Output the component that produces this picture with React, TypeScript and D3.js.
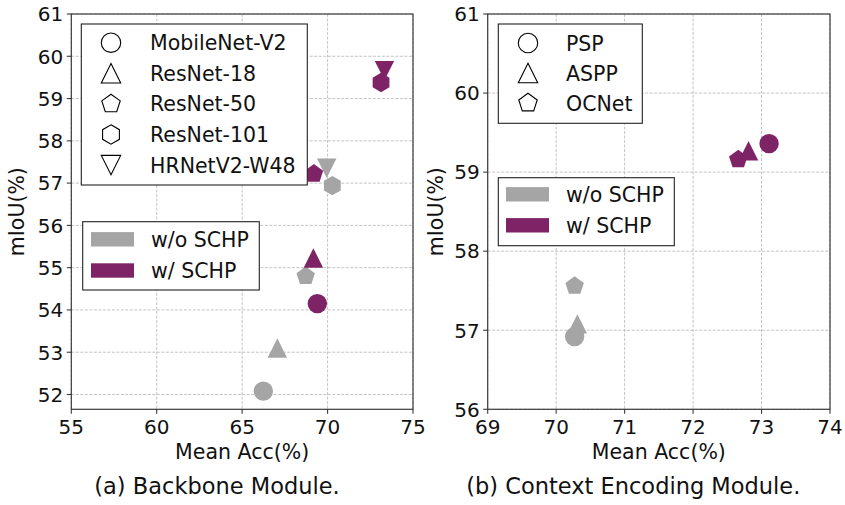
import * as d3 from 'd3'

// ---- data ----
const backboneNames = ['MobileNet-V2', 'ResNet-18', 'ResNet-50', 'ResNet-101', 'HRNetV2-W48']
const backboneShapes = ['circle', 'triangle', 'pentagon', 'hexagon', 'triangleDown']
const backboneAccWo = [66.24, 67.06, 68.72, 70.28, 69.95]
const backboneMiouWo = [52.08, 53.1, 54.8, 56.94, 57.35]
const backboneAccW = [69.4, 69.17, 69.2, 73.13, 73.33]
const backboneMiouW = [54.15, 55.23, 57.22, 59.38, 59.66]

const contextNames = ['PSP', 'ASPP', 'OCNet']
const contextShapes = ['circle', 'triangle', 'pentagon']
const contextAccWo = [70.27, 70.31, 70.27]
const contextMiouWo = [56.92, 57.08, 57.56]
const contextAccW = [73.11, 72.81, 72.66]
const contextMiouW = [59.36, 59.27, 59.16]

const backboneXTicks = [55, 60, 65, 70, 75]
const backboneYTicks = [52, 53, 54, 55, 56, 57, 58, 59, 60, 61]
const contextXTicks = [69, 70, 71, 72, 73, 74]
const contextYTicks = [56, 57, 58, 59, 60, 61]

const groupNames = ['w/o SCHP', 'w/ SCHP']

const GRAY = '#a5a5a5'
const PURPLE = '#7e2466'
const FONT = 'DejaVu Sans, sans-serif'
const MS = 19.4 // marker size in px

function markerPath(shape: string, ms: number) {
  const r = ms / 2
  const poly = (pts: [number, number][]) => {
    const p = d3.path()
    pts.forEach(([x, y], i) => (i === 0 ? p.moveTo(x, y) : p.lineTo(x, y)))
    p.closePath()
    return p.toString()
  }
  const regular = (n: number) =>
    poly(d3.range(n).map(i => {
      const a = (i * 2 * Math.PI) / n
      return [r * Math.sin(a), -r * Math.cos(a)] as [number, number]
    }))
  switch (shape) {
    case 'circle': {
      const p = d3.path()
      p.arc(0, 0, r, 0, 2 * Math.PI)
      p.closePath()
      return p.toString()
    }
    case 'triangle':
      return poly([[0, -r], [-r, r], [r, r]])
    case 'triangleDown':
      return poly([[0, r], [-r, -r], [r, -r]])
    case 'pentagon':
      return regular(5)
    case 'hexagon':
      return regular(6)
    default:
      return ''
  }
}

type PanelProps = {
  box: { x0: number; x1: number; y0: number; y1: number }
  xDomain: [number, number]
  yDomain: [number, number]
  xTicks: number[]
  yTicks: number[]
  names: string[]
  shapes: string[]
  accWo: number[]
  miouWo: number[]
  accW: number[]
  miouW: number[]
  legend1: { x: number; y: number; w: number; h: number; row0: number; step: number; mx: number; tx: number }
  legend2: { x: number; y: number; w: number; h: number; rows: number[]; px: number; tx: number }
  yLabelX: number
  caption: string
  captionX: number
}

function Panel(p: PanelProps) {
  const { box } = p
  const x = d3.scaleLinear().domain(p.xDomain).range([box.x0, box.x1])
  const y = d3.scaleLinear().domain(p.yDomain).range([box.y1, box.y0])
  const cx = (box.x0 + box.x1) / 2
  const cy = (box.y0 + box.y1) / 2

  return (
    <g fontFamily={FONT}>
      {/* grid */}
      {p.xTicks.map(t => (
        <line key={'gx' + t} x1={x(t)} x2={x(t)} y1={box.y0} y2={box.y1}
          stroke="#bdbdbd" strokeWidth={0.9} strokeDasharray="3,1.5" />
      ))}
      {p.yTicks.map(t => (
        <line key={'gy' + t} x1={box.x0} x2={box.x1} y1={y(t)} y2={y(t)}
          stroke="#bdbdbd" strokeWidth={0.9} strokeDasharray="3,1.5" />
      ))}

      {/* points: w/o then w/ */}
      {p.names.map((n, i) => (
        <path key={'wo' + n} d={markerPath(p.shapes[i], MS)}
          transform={`translate(${x(p.accWo[i])},${y(p.miouWo[i])})`} fill={GRAY} />
      ))}
      {p.names.map((n, i) => (
        <path key={'w' + n} d={markerPath(p.shapes[i], MS)}
          transform={`translate(${x(p.accW[i])},${y(p.miouW[i])})`} fill={PURPLE} />
      ))}

      {/* spines */}
      <rect x={box.x0} y={box.y0} width={box.x1 - box.x0} height={box.y1 - box.y0}
        fill="none" stroke="#3a3a3a" strokeWidth={1.2} />

      {/* ticks */}
      {p.xTicks.map(t => (
        <g key={'tx' + t}>
          <line x1={x(t)} x2={x(t)} y1={box.y1} y2={box.y1 + 4.5} stroke="#3a3a3a" strokeWidth={1.1} />
          <text x={x(t)} y={box.y1 + 24.5} textAnchor="middle" fontSize={20} fill="#111">{t}</text>
        </g>
      ))}
      {p.yTicks.map(t => (
        <g key={'ty' + t}>
          <line x1={box.x0 - 4.5} x2={box.x0} y1={y(t)} y2={y(t)} stroke="#3a3a3a" strokeWidth={1.1} />
          <text x={box.x0 - 8} y={y(t) + 7.3} textAnchor="end" fontSize={20} fill="#111">{t}</text>
        </g>
      ))}

      {/* axis labels */}
      <text x={cx} y={459} textAnchor="middle" fontSize={20.5} fill="#111">Mean Acc(%)</text>
      <text transform={`translate(${p.yLabelX},${cy}) rotate(-90)`} textAnchor="middle"
        dominantBaseline="central" fontSize={20.5} fill="#111">mIoU(%)</text>

      {/* legend: shapes */}
      <g>
        <rect x={p.legend1.x} y={p.legend1.y} width={p.legend1.w} height={p.legend1.h}
          fill="#fff" stroke="#222" strokeWidth={1.1} />
        {p.names.map((n, i) => {
          const ry = p.legend1.y + p.legend1.row0 + i * p.legend1.step
          return (
            <g key={'l1' + n}>
              <path d={markerPath(p.shapes[i], MS)} transform={`translate(${p.legend1.x + p.legend1.mx},${ry})`}
                fill="#fff" stroke="#000" strokeWidth={1.1} />
              <text x={p.legend1.x + p.legend1.tx} y={ry + 7.5} fontSize={20.5} fill="#111">{n}</text>
            </g>
          )
        })}
      </g>

      {/* legend: groups */}
      <g>
        <rect x={p.legend2.x} y={p.legend2.y} width={p.legend2.w} height={p.legend2.h}
          fill="#fff" stroke="#222" strokeWidth={1.1} />
        {groupNames.map((g, i) => {
          const ry = p.legend2.y + p.legend2.rows[i]
          return (
            <g key={'l2' + g}>
              <rect x={p.legend2.x + p.legend2.px} y={ry - 7.2} width={43} height={14.4}
                fill={i === 0 ? GRAY : PURPLE} />
              <text x={p.legend2.x + p.legend2.tx} y={ry + 7.5} fontSize={20.5} fill="#111">{g}</text>
            </g>
          )
        })}
      </g>

      {/* caption */}
      <text x={p.captionX} y={494} textAnchor="middle" fontSize={22.5} fill="#111">{p.caption}</text>
    </g>
  )
}

export default function App() {
  return (
    <svg width={845} height={505} style={{ position: 'absolute', left: 0, top: 0, background: '#fff' }}>
      <rect width={845} height={505} fill="#fff" />
      <Panel
        box={{ x0: 71.3, x1: 413, y0: 14, y1: 409.3 }}
        xDomain={[55, 75]}
        yDomain={[51.65, 61]}
        xTicks={backboneXTicks}
        yTicks={backboneYTicks}
        names={backboneNames}
        shapes={backboneShapes}
        accWo={backboneAccWo}
        miouWo={backboneMiouWo}
        accW={backboneAccW}
        miouW={backboneMiouW}
        legend1={{ x: 81.3, y: 24, w: 226, h: 161, row0: 18.7, step: 30.6, mx: 29.7, tx: 68.7 }}
        legend2={{ x: 82.7, y: 221.7, w: 176.6, h: 68.3, rows: [17.6, 48.8], px: 8.3, tx: 68.3 }}
        yLabelX={17}
        caption="(a) Backbone Module."
        captionX={217}
      />
      <Panel
        box={{ x0: 487.7, x1: 830, y0: 14, y1: 409.3 }}
        xDomain={[69, 74]}
        yDomain={[56, 61]}
        xTicks={contextXTicks}
        yTicks={contextYTicks}
        names={contextNames}
        shapes={contextShapes}
        accWo={contextAccWo}
        miouWo={contextMiouWo}
        accW={contextAccW}
        miouW={contextMiouW}
        legend1={{ x: 498.3, y: 24, w: 144, h: 99.3, row0: 19, step: 30, mx: 29.7, tx: 67.7 }}
        legend2={{ x: 498.3, y: 177.7, w: 176, h: 68, rows: [16.6, 47.6], px: 7.7, tx: 67.7 }}
        yLabelX={436}
        caption="(b) Context Encoding Module."
        captionX={633.3}
      />
    </svg>
  )
}
